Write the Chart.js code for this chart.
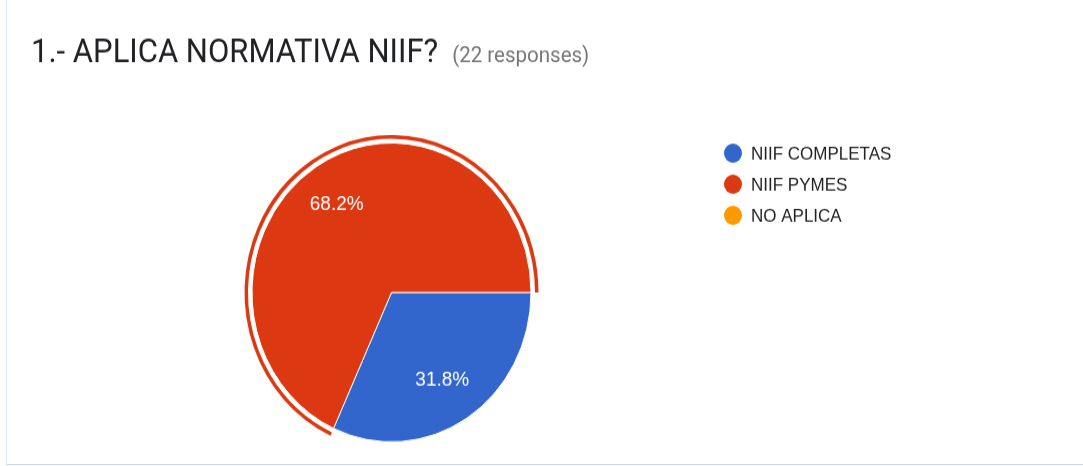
<!DOCTYPE html>
<html>
<head>
<meta charset="utf-8">
<script src="https://cdn.jsdelivr.net/npm/chart.js@4.4.1/dist/chart.umd.min.js"></script>
<style>
  html, body { margin: 0; padding: 0; background: #fff; overflow: hidden; }
  #card {
    position: absolute; left: 6px; top: -4px; width: 1100px; height: 469px;
    box-sizing: border-box;
    border-left: 1px solid #dfe6ee; border-bottom: 1px solid #c9d6e3;
    background: #fff;
  }
  #chart { position: absolute; left: 0; top: 0; }
</style>
</head>
<body>
<div id="card"></div>
<canvas id="chart" width="1083" height="435" style="width:1083px;height:466px"></canvas>
<script>
// Question summary: one pie with a highlight ring on the largest answer.
const questionTitle = '1.- APLICA NORMATIVA NIIF?';
const responseNote = '(22 responses)';
const categories = ['NIIF COMPLETAS', 'NIIF PYMES', 'NO APLICA'];
const responses = [7, 15, 0];
const sliceColors = ['#3366CC', '#DC3912', '#FF9900'];
const highlightIndex = 1;

const ringColors = categories.map((_, i) => i === highlightIndex ? sliceColors[i] : 'rgba(0,0,0,0)');
const PIE = 2; // dataset index of the actual pie

const sliceLabels = {
  id: 'sliceLabels',
  afterDatasetsDraw(chart) {
    const meta = chart.getDatasetMeta(PIE);
    const total = responses.reduce((a, b) => a + b, 0);
    const ctx = chart.ctx;
    ctx.save();
    ctx.font = '19px Arial, "Liberation Sans", sans-serif';
    ctx.fillStyle = '#ffffff';
    ctx.textAlign = 'center';
    ctx.textBaseline = 'middle';
    meta.data.forEach((arc, i) => {
      if (!responses[i]) return;
      const p = arc.getProps(['x', 'y', 'startAngle', 'endAngle', 'outerRadius'], true);
      const mid = (p.startAngle + p.endAngle) / 2;
      const r = p.outerRadius * 0.7;
      const pct = (responses[i] / total * 100).toFixed(1) + '%';
      ctx.fillText(pct, p.x - 2 + Math.cos(mid) * r, p.y + Math.sin(mid) * r);
    });
    ctx.restore();
  }
};

const headerAndLegend = {
  id: 'headerAndLegend',
  afterDraw(chart) {
    const ctx = chart.ctx;
    ctx.save();
    // heading
    ctx.textAlign = 'left';
    ctx.textBaseline = 'alphabetic';
    ctx.font = '31px Roboto, sans-serif';
    ctx.fillStyle = '#202124';
    const tx = 31, ty = 58;
    ctx.fillText(questionTitle, tx, ty);
    const w = ctx.measureText(questionTitle).width;
    ctx.font = '20.5px Roboto, sans-serif';
    ctx.fillStyle = '#767676';
    ctx.fillText(responseNote, tx + w + 14, ty);
    // legend
    ctx.font = '17px Arial, "Liberation Sans", sans-serif';
    ctx.textBaseline = 'middle';
    categories.forEach((name, i) => {
      const y = 143 + i * 29;
      ctx.beginPath();
      ctx.arc(733, y, 9, 0, Math.PI * 2);
      ctx.fillStyle = sliceColors[i];
      ctx.fill();
      ctx.fillStyle = '#222222';
      ctx.fillText(name, 751, y + 1);
    });
    ctx.restore();
  }
};

new Chart(document.getElementById('chart'), {
  type: 'pie',
  data: {
    labels: categories,
    datasets: [
      { data: responses, backgroundColor: ringColors, borderWidth: 0, weight: 3.5, radius: 147 },
      { data: [1], backgroundColor: ['rgba(0,0,0,0)'], borderWidth: 0, weight: 4, radius: 147 },
      { data: responses, backgroundColor: sliceColors, borderColor: '#ffffff', borderWidth: 1, weight: 139.5, radius: 147 }
    ]
  },
  options: {
    responsive: false,
    animation: false,
    events: [],
    rotation: 90,
    layout: { padding: { left: 244.5, right: 544.5, top: 126, bottom: 15 } },
    plugins: { legend: { display: false }, tooltip: { enabled: false }, title: { display: false } }
  },
  plugins: [sliceLabels, headerAndLegend]
});
</script>
</body>
</html>
